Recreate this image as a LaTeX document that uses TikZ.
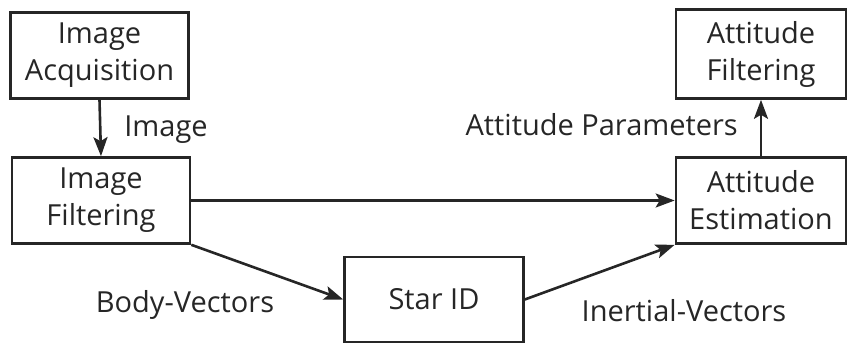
\documentclass[tikz,border=0pt]{standalone}
\usepackage{fontspec}
\setmainfont{Open Sans}
\usetikzlibrary{arrows.meta}

\begin{document}
\begin{tikzpicture}[x=1pt,y=-1pt,
        blk/.style={draw=black!85,line width=2.6pt,minimum width=178pt,minimum height=86pt,
            align=center,inner sep=0pt,font=\fontsize{29}{37}\selectfont,text=black!85},
        lbl/.style={font=\fontsize{29}{37}\selectfont,text=black!85,inner sep=0pt},
        flow/.style={draw=black!85,line width=2.6pt,-{Stealth[length=19pt,width=14pt,inset=4pt]}}]
        \useasboundingbox (0,0) rectangle (847,345);

        % Blocks
        \node[blk] (acq) at (99.5,55.5) {Image\\Acquisition};
        \node[blk] (filt) at (101,200.5) {Image\\Filtering};
        \node[blk,minimum width=179pt,minimum height=85pt] (star) at (434,299.5) {Star ID};
        \node[blk,minimum width=170pt] (est) at (761,200.5) {Attitude\\Estimation};
        \node[blk,minimum width=170pt,minimum height=89pt] (attf) at (761,54) {Attitude\\Filtering};

        % Connectors
        \draw[flow] (acq.south) -- (filt.north);
        \draw[flow] (filt.east) -- (est.west);
        \draw[flow] (filt.south east) -- (star.west);
        \draw[flow] (star.east) -- (est.south west);
        \draw[flow] (est.north) -- (attf.south);

        % Labels
        \node[lbl] (limg) at (166,130) {Image};
        \node[lbl] (lbody) at (185,305) {Body-Vectors};
        \node[lbl] (linert) at (684,311) {Inertial-Vectors};
        \node[lbl,anchor=east] (lpar) at (738,125) {Attitude Parameters};
\end{tikzpicture}
\end{document}
